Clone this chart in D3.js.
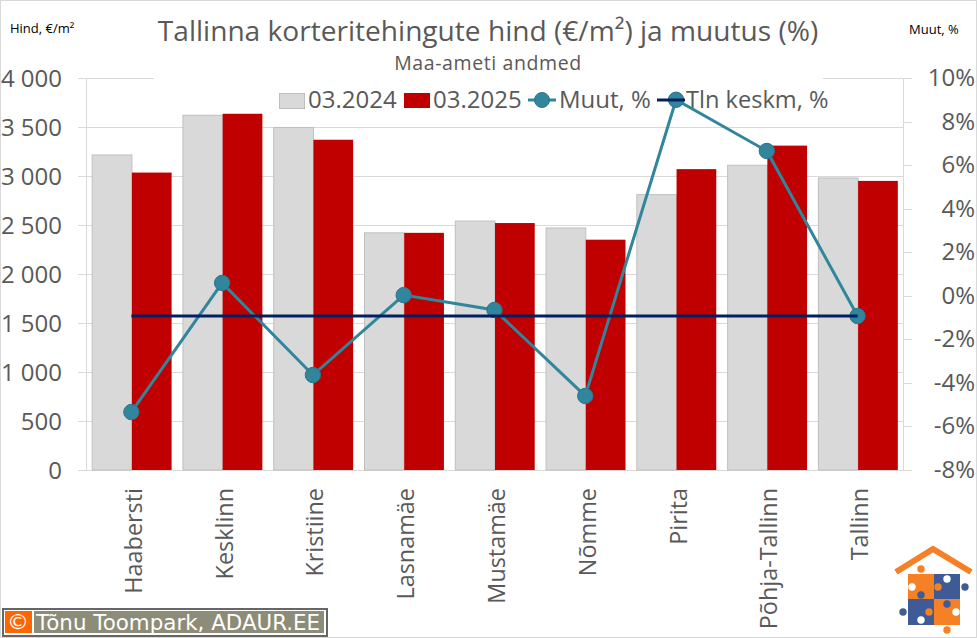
<!DOCTYPE html>
<html><head><meta charset="utf-8">
<script src="https://cdnjs.cloudflare.com/ajax/libs/d3/7.9.0/d3.min.js"></script>
<style>html,body{margin:0;padding:0;background:#fff}svg{display:block}text{font-family:"Open Sans","Noto Sans",sans-serif}</style>
</head><body><svg id="c" width="977" height="638"></svg>
<script>
const categories=["Haabersti","Kesklinn","Kristiine","Lasnamäe","Mustamäe","Nõmme","Pirita","Põhja-Tallinn","Tallinn"];
const values2024=[3215,3620,3495,2420,2540,2470,2810,3110,2980];
const values2025=[3035,3635,3370,2420,2520,2350,3070,3310,2950];
const muut=[-5.34,0.59,-3.64,0.03,-0.65,-4.6,9.0,6.65,-0.93];
const tlnKeskm=[-0.93,-0.93,-0.93,-0.93,-0.93,-0.93,-0.93,-0.93,-0.93];
const leftTicks=[0,500,1000,1500,2000,2500,3000,3500,4000];
const rightTicks=[-8,-6,-4,-2,0,2,4,6,8,10];
const fmtL=d=>d>=1000?`${Math.floor(d/1000)} ${String(d%1000).padStart(3,"0")}`:String(d);

const svg=d3.select("#c");
const M={l:86,r:903,t:78,b:470};
const x=d3.scaleBand().domain(categories).range([M.l,M.r]).paddingInner(0.125).paddingOuter(0.0625);
const yL=d3.scaleLinear().domain([0,4000]).range([M.b,M.t]);
const yR=d3.scaleLinear().domain([-8,10]).range([M.b,M.t]);
const textC="#595959",grid="#d9d9d9";

svg.append("rect").attr("x",0.5).attr("y",0.5).attr("width",976).attr("height",637).attr("fill","#fff").attr("stroke","#d9d9d9");

// gridlines with left ticks
svg.append("g").selectAll("line").data(leftTicks).join("line")
 .attr("x1",78).attr("x2",M.r).attr("y1",d=>Math.round(yL(d))+.5).attr("y2",d=>Math.round(yL(d))+.5)
 .attr("stroke",grid);
svg.append("line").attr("x1",M.l+.5).attr("x2",M.l+.5).attr("y1",M.t).attr("y2",M.b).attr("stroke",grid);
svg.append("line").attr("x1",M.r+.5).attr("x2",M.r+.5).attr("y1",M.t).attr("y2",M.b).attr("stroke",grid);
svg.append("g").selectAll("line").data(rightTicks).join("line")
 .attr("x1",M.r).attr("x2",912).attr("y1",d=>Math.round(yR(d))+.5).attr("y2",d=>Math.round(yR(d))+.5)
 .attr("stroke",grid);

// bars
const bw=x.bandwidth()/2;
svg.append("g").selectAll("rect").data(values2024).join("rect")
 .attr("x",(d,i)=>x(categories[i])+.5).attr("width",bw).attr("y",d=>yL(d)).attr("height",d=>yL(0)-yL(d))
 .attr("fill","#d9d9d9").attr("stroke","#bfbfbf").attr("stroke-width",1);
svg.append("g").selectAll("rect").data(values2025).join("rect")
 .attr("x",(d,i)=>x(categories[i])+bw+.5).attr("width",bw).attr("y",d=>yL(d)).attr("height",d=>yL(0)-yL(d))
 .attr("fill","#c00000");

// white panel behind legend and subtitle
svg.append("rect").attr("x",154).attr("y",70).attr("width",669).attr("height",17).attr("fill","#fff");

// titles
svg.append("text").attr("x",488).attr("y",41).attr("text-anchor","middle").attr("font-size",28.1).attr("fill",textC).text("Tallinna korteritehingute hind (€/m²) ja muutus (%)");
svg.append("text").attr("x",488).attr("y",70).attr("text-anchor","middle").attr("font-size",19.5).attr("letter-spacing",0.6).attr("fill",textC).text("Maa-ameti andmed");
svg.append("text").attr("x",10).attr("y",33).attr("font-size",13).attr("fill","#000").text("Hind, €/m²");
svg.append("text").attr("x",909).attr("y",34).attr("font-size",13).attr("fill","#000").text("Muut, %");

// tick labels
svg.append("g").selectAll("text").data(leftTicks).join("text")
 .attr("x",62).attr("y",d=>yL(d)+8.5).attr("text-anchor","end").attr("font-size",24).attr("fill",textC).text(fmtL);
svg.append("g").selectAll("text").data(rightTicks).join("text")
 .attr("x",975).attr("y",d=>yR(d)+8).attr("text-anchor","end").attr("font-size",24).attr("fill",textC).text(d=>d+"%");
svg.append("g").selectAll("text").data(categories).join("text")
 .attr("transform",d=>`translate(${x(d)+x.bandwidth()/2+10.5},488) rotate(-90)`)
 .attr("text-anchor","end").attr("font-size",23.4).attr("fill",textC).text(d=>d);

// legend
const ly=100;
svg.append("rect").attr("x",279.5).attr("y",93.5).attr("width",25).attr("height",15).attr("fill","#d9d9d9").attr("stroke","#bfbfbf");
svg.append("text").attr("x",308).attr("y",ly+8).attr("font-size",24).attr("fill",textC).text("03.2024");
svg.append("rect").attr("x",404).attr("y",93).attr("width",26).attr("height",15).attr("fill","#c00000");
svg.append("text").attr("x",433).attr("y",ly+8).attr("font-size",24).attr("fill",textC).text("03.2025");
svg.append("line").attr("x1",528).attr("x2",556).attr("y1",ly).attr("y2",ly).attr("stroke","#31859c").attr("stroke-width",3);
svg.append("circle").attr("cx",542).attr("cy",ly).attr("r",7.5).attr("fill","#31859c").attr("stroke","#2a7488");
svg.append("text").attr("x",559).attr("y",ly+8).attr("font-size",24).attr("fill",textC).text("Muut, %");
svg.append("text").attr("x",686).attr("y",ly+8).attr("font-size",23.6).attr("fill",textC).text("Tln keskm, %");

// lines
const cx=i=>M.l+(M.r-M.l)*(i+.5)/categories.length;
const line=d3.line().x((d,i)=>cx(i)).y(d=>yR(d));
svg.append("path").attr("d",line(muut)).attr("fill","none").attr("stroke","#31859c").attr("stroke-width",3);
svg.append("g").selectAll("circle").data(muut).join("circle")
 .attr("cx",(d,i)=>cx(i)).attr("cy",d=>yR(d)).attr("r",7.7).attr("fill","#31859c").attr("stroke","#2a7488");
svg.append("path").attr("d",line(tlnKeskm)).attr("fill","none").attr("stroke","#002060").attr("stroke-width",3);
svg.append("line").attr("x1",657).attr("x2",685).attr("y1",ly).attr("y2",ly).attr("stroke","#002060").attr("stroke-width",3);

// copyright badge
svg.append("rect").attr("x",3).attr("y",609).attr("width",324).attr("height",27).attr("fill","#fff").attr("stroke","#666").attr("stroke-width",2);
svg.append("rect").attr("x",5).attr("y",611).attr("width",27).attr("height",22).attr("fill","#ff6600");
svg.append("rect").attr("x",34).attr("y",611).attr("width",290).attr("height",22).attr("fill","#8c8c78");
svg.append("text").attr("x",18).attr("y",629).attr("text-anchor","middle").attr("font-size",22).attr("fill","#fff").style("font-family","DejaVu Sans").text("©");
svg.append("text").attr("x",36).attr("y",630).attr("font-size",21.4).attr("fill","#fff").style("font-family","DejaVu Sans").text("Tõnu Toompark, ADAUR.EE");

// logo
const logo=svg.append("g");
const or="#f58025",bl="#3f5b95";
logo.append("path").attr("d","M896 572 L933 549 L971 572").attr("fill","none").attr("stroke",or).attr("stroke-width",6);
logo.append("rect").attr("x",908).attr("y",574).attr("width",26).attr("height",25).attr("fill",or);
logo.append("rect").attr("x",934).attr("y",574).attr("width",26).attr("height",25).attr("fill",bl);
logo.append("rect").attr("x",908).attr("y",599).attr("width",26).attr("height",26).attr("fill",bl);
logo.append("rect").attr("x",934).attr("y",599).attr("width",26).attr("height",26).attr("fill",or);
[[921,569,or],[965,587,bl],[903,612,bl],[947,630,or],[921,595,bl],[947,604,bl],[938,587,or],[929,612,or]].forEach(c=>logo.append("circle").attr("cx",c[0]).attr("cy",c[1]).attr("r",3.7).attr("fill",c[2]));
[[947,579],[912,587],[921,620],[956,612]].forEach(c=>logo.append("circle").attr("cx",c[0]).attr("cy",c[1]).attr("r",3.7).attr("fill","#fff"));
</script></body></html>
